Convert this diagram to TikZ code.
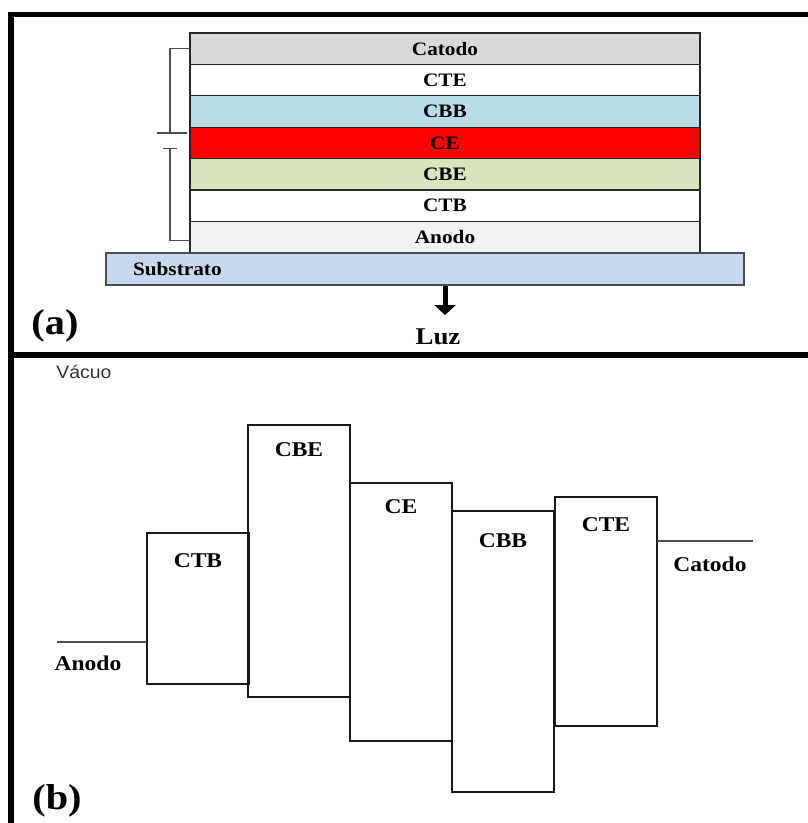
\documentclass[tikz,border=0pt]{standalone}
\usepackage{fontspec}
\setmainfont{Liberation Serif}[FakeStretch=1.12]
\setsansfont{Liberation Sans}[FakeStretch=1.08]
\usetikzlibrary{shapes,arrows,positioning}
\usetikzlibrary{arrows.meta}
\definecolor{catodogray}{HTML}{D9D9D9}
\definecolor{cbbblue}{HTML}{B7DDE8}
\definecolor{cegreen}{HTML}{D7E4BD}
\definecolor{anodogray}{HTML}{F2F2F2}
\definecolor{substblue}{HTML}{C6D9F1}
\definecolor{wiregray}{HTML}{4D4D4D}
\tikzset{
  frame/.style={line width=5.6pt, line join=miter, line cap=rect},
  layer/.style={rectangle, draw=black!85, line width=1.3pt, minimum width=510pt,
    minimum height=31.4pt, inner sep=0pt, outer sep=0pt,
    font=\fontsize{19}{19}\selectfont\bfseries},
  wire/.style={draw=wiregray, line width=1.4pt},
  levelbox/.style={rectangle, draw=black!90, line width=1.6pt, minimum width=102pt,
    anchor=north west, inner sep=0pt, outer sep=0pt},
  levellabel/.style={font=\fontsize{21}{21}\selectfont\bfseries},
  levelline/.style={draw=wiregray, line width=1.4pt},
}
\begin{document}
\begin{tikzpicture}[x=1pt,y=-1pt]
  \useasboundingbox (0,0) rectangle (808,823);
  % moldura
  \draw[frame] (11,823) -- (11,14.5) -- (808,14.5);
  \draw[line width=6pt] (8,355) -- (808,355);

  % (a) camadas do dispositivo
  \node [layer, fill=catodogray] (catodo) at (445,48.7) {Catodo};
  \node [layer, fill=white, below=0pt of catodo] (cte) {CTE};
  \node [layer, fill=cbbblue, below=0pt of cte] (cbb) {CBB};
  \node [layer, fill=red, below=0pt of cbb] (ce) {CE};
  \node [layer, fill=cegreen, below=0pt of ce] (cbe) {CBE};
  \node [layer, fill=white, below=0pt of cbe] (ctb) {CTB};
  \node [layer, fill=anodogray, below=0pt of ctb] (anodo) {Anodo};
  \node [layer, fill=substblue, draw=black!70, minimum width=0pt, minimum height=32pt,
    text width=584pt, inner xsep=27pt, align=left] (substrato) at (425,269) {Substrato};

  % bateria
  \coordinate (batp) at (170,133);
  \coordinate (batn) at (170,148.5);
  \draw[wire] (catodo.west) -| (batp);
  \draw[wire] ([xshift=-13pt]batp) -- ([xshift=17pt]batp);
  \draw[wire] ([xshift=-7pt]batn) -- ([xshift=7pt]batn);
  \draw[wire] (batn) |- ([yshift=-3.5pt]anodo.west);

  % luz
  \coordinate (luztop) at (445,286);
  \coordinate (luztip) at (445,315);
  \draw[line width=5pt, -{Triangle[width=21pt,length=10pt]}] (luztop) -- (luztip);
  \node [font=\fontsize{24}{24}\selectfont\bfseries] (luz) at (438,337) {Luz};
  \node [font=\fontsize{36}{36}\selectfont\bfseries] (labela) at (55,326) {(a)};

  % (b) niveis de energia
  \node [font=\sffamily\fontsize{18}{18}\selectfont, text=black!80] (vacuo) at (84,372) {Vácuo};
  \node [levelbox, minimum height=151pt] (ctbB) at (147,533) {};
  \node [levelbox, minimum height=272pt] (cbeB) at (248,425) {};
  \node [levelbox, minimum height=258pt] (ceB) at (350,483) {};
  \node [levelbox, minimum height=281pt] (cbbB) at (452,511) {};
  \node [levelbox, minimum height=229pt] (cteB) at (555,497) {};
  \node [levellabel] (ctbL) at ([yshift=-28pt]ctbB.north) {CTB};
  \node [levellabel] (cbeL) at ([yshift=-25pt]cbeB.north) {CBE};
  \node [levellabel] (ceL) at ([yshift=-24pt]ceB.north) {CE};
  \node [levellabel] (cbbL) at ([yshift=-30pt]cbbB.north) {CBB};
  \node [levellabel] (cteL) at ([yshift=-28pt]cteB.north) {CTE};

  \coordinate (anodoleft) at (57,642);
  \coordinate (catodoright) at (753,541);
  \draw[levelline] (anodoleft) -- (anodoleft -| ctbB.west);
  \draw[levelline] (catodoright -| cteB.east) -- (catodoright);
  \node [levellabel] (anodoL) at (88,663) {Anodo};
  \node [levellabel] (catodoL) at (710,564) {Catodo};
  \node [font=\fontsize{36}{36}\selectfont\bfseries] (labelb) at (57,801) {(b)};
\end{tikzpicture}
\end{document}
